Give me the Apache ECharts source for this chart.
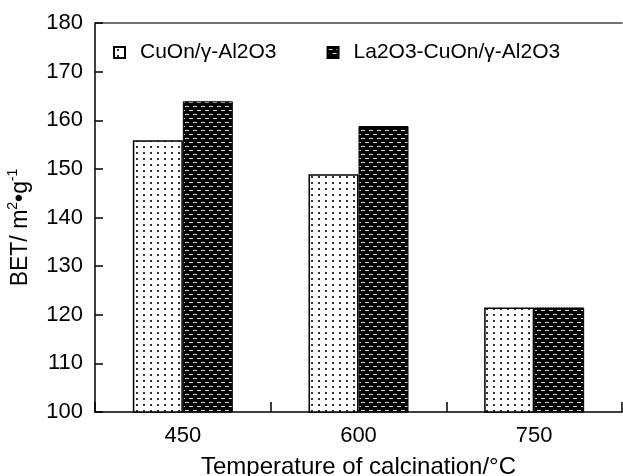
<!DOCTYPE html>
<html>
<head>
<meta charset="utf-8">
<script src="https://cdn.jsdelivr.net/npm/echarts@6/dist/echarts.min.js"></script>
<style>
html, body { margin: 0; padding: 0; background: #fff; }
#main { width: 623px; height: 476px; }
</style>
</head>
<body>
<div id="main"></div>
<script>
// 数据
const categories = ['450', '600', '750'];
const seriesNames = ['CuOn/γ-Al2O3', 'La2O3-CuOn/γ-Al2O3'];
const cuonValues = [155.9, 148.9, 121.5];
const laValues = [163.9, 158.8, 121.5];
const yTicks = { min: 100, max: 180, interval: 10 };

// 点状填充
function dotPattern () {
  const c = document.createElement('canvas');
  c.width = 7; c.height = 6;
  const ctx = c.getContext('2d');
  ctx.fillStyle = '#fff';
  ctx.fillRect(0, 0, 7, 6);
  ctx.fillStyle = '#333';
  ctx.fillRect(3, 2, 2, 2);
  return { image: c, repeat: 'repeat' };
}
// 黑底白色短横线
function brickPattern () {
  const c = document.createElement('canvas');
  c.width = 8; c.height = 8;
  const ctx = c.getContext('2d');
  ctx.fillStyle = '#000';
  ctx.fillRect(0, 0, 8, 8);
  ctx.fillStyle = '#ddd';
  ctx.fillRect(1, 2, 4, 1);
  ctx.fillRect(5, 6, 3, 1);
  ctx.fillRect(0, 6, 1, 1);
  return { image: c, repeat: 'repeat' };
}

const font = 'Liberation Sans, Arial, sans-serif';
const chart = echarts.init(document.getElementById('main'));
const option = {
  animation: false,
  textStyle: { fontFamily: font, color: '#000' },
  legend: {
    data: seriesNames,
    left: 108,
    top: 37,
    icon: 'rect',
    itemWidth: 11,
    itemHeight: 11,
    itemGap: 50,
    textStyle: { fontSize: 21, color: '#000', fontFamily: font, padding: [0, 0, 0, 10] },
  },
  grid: { left: 95, right: 1, top: 23, bottom: 64, outerBoundsMode: 'none', containLabel: false },
  xAxis: [{
    type: 'category',
    data: categories,
    name: 'Temperature of calcination/°C',
    nameLocation: 'middle',
    nameGap: 43,
    nameTextStyle: { fontSize: 24, color: '#000', fontFamily: font },
    axisLine: { lineStyle: { color: '#000', width: 1.5 } },
    axisTick: { show: true, inside: true, length: 10, lineStyle: { color: '#000', width: 1.5 } },
    axisLabel: { fontSize: 22, color: '#000', margin: 13, fontFamily: font },
  }, {
    // 顶部边框线
    type: 'category',
    data: categories,
    position: 'top',
    axisLine: { show: true, lineStyle: { color: '#444', width: 1.5 } },
    axisTick: { show: false },
    axisLabel: { show: false },
  }],
  yAxis: {
    type: 'value',
    min: yTicks.min,
    max: yTicks.max,
    interval: yTicks.interval,
    name: '{t|BET/ m}{s|2}{t|•g}{s|-1}',
    nameLocation: 'middle',
    nameRotate: 90,
    nameGap: 63,
    nameTextStyle: {
      padding: [0, 20, 0, 0],
      rich: {
        t: { fontSize: 23, color: '#000', fontFamily: font, lineHeight: 26, verticalAlign: 'bottom' },
        s: { fontSize: 14, color: '#000', fontFamily: font, lineHeight: 26, verticalAlign: 'top' },
      },
    },
    splitLine: { show: false },
    axisLine: { show: true, lineStyle: { color: '#000', width: 1.5 } },
    axisTick: { show: true, inside: true, length: 8, lineStyle: { color: '#000', width: 1.5 } },
    axisLabel: { fontSize: 22, color: '#000', margin: 12, fontFamily: font },
  },
  series: [{
    name: seriesNames[0],
    type: 'bar',
    data: cuonValues,
    barWidth: 50,
    barGap: '0%',
    itemStyle: { color: dotPattern(), borderColor: '#000', borderWidth: 1.5 },
  }, {
    name: seriesNames[1],
    type: 'bar',
    data: laValues,
    barWidth: 50,
    barGap: '0%',
    itemStyle: { color: brickPattern(), borderColor: '#000', borderWidth: 1 },
  }],
};
chart.setOption(option);
</script>
</body>
</html>
